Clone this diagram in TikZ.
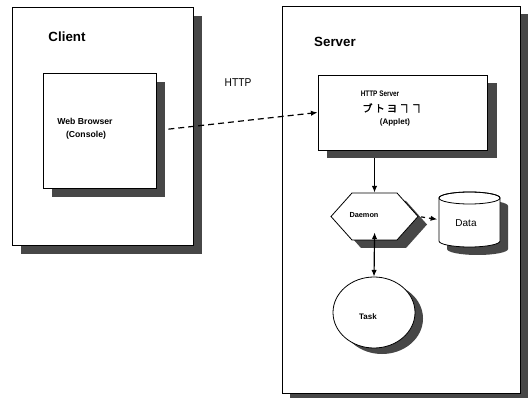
\documentclass[tikz,border=0pt]{standalone}
\usepackage{fontspec}
\setmainfont{Liberation Sans}
\newfontfamily\jpfont{Noto Sans CJK JP}[FakeBold=2]
\usetikzlibrary{shapes.geometric,arrows.meta}
\begin{document}
\begin{tikzpicture}[x=0.75pt,y=-0.75pt,line width=0.6pt,
  shade/.style={fill=black!72,draw=none},
  box/.style={draw,fill=white,rectangle,inner sep=0pt},
  title/.style={font=\bfseries\fontsize{10}{11}\selectfont},
  small/.style={font=\bfseries\fontsize{6.5}{8}\selectfont,inner sep=0pt},
  tiny/.style={font=\bfseries\fontsize{6}{7}\selectfont,inner sep=0pt},
  conn/.style={line width=0.9pt},
  tip/.style={conn,-{Latex[length=5pt,width=4pt]}},
  dtip/.style={conn,{Latex[length=5pt,width=4pt]}-{Latex[length=5pt,width=4pt]}}]
\useasboundingbox (0,0) rectangle (530,398);
% Client
\fill[shade] (21,16) rectangle (202,254);
\node[box,minimum width=135.75pt,minimum height=178.5pt] (client) at (102.5,126) {};
\node[title] (clientlbl) at (67,37) {Client};
\fill[shade] (52,82) rectangle (165,197);
\node[box,minimum width=84.75pt,minimum height=86.25pt] (wb) at (99.5,130.5) {};
\node[small] (wbl1) at (85,121) {Web Browser};
\node[small] (wbl2) at (86,135) {(Console)};
% HTTP label
\node[font=\fontsize{8.5}{10}\selectfont] (http) at (238,83) {\scalebox{0.9}[1]{HTTP}};
% Server
\fill[shade] (290,14) rectangle (528,398);
\node[box,minimum width=178.5pt,minimum height=290.25pt] (server) at (401,199.5) {};
\node[title] (serverlbl) at (335,42) {Server};
\fill[shade] (327,83) rectangle (497,158);
\node[box,minimum width=126.75pt,minimum height=56.25pt] (hs) at (402.5,112.5) {};
\node[tiny] (hsl1) at (380,94) {\scalebox{0.8}[1]{HTTP Server}};
\node[font=\jpfont\fontsize{7.5}{8}\selectfont,inner sep=0pt] (hsl2) at (392,108) {ブ ト ヨ ヿ ヿ};
\node[tiny] (hsl3) at (395,122) {(Applet)};
% Daemon hexagon
\node[inner sep=0pt,minimum width=65.25pt,minimum height=35.25pt] (dm) at (374.5,216.5) {};
\fill[shade] (340,224.5) -- (361,201) -- (406,201) -- (427,224.5) -- (406,248) -- (361,248) -- cycle;
\draw[fill=white] (331,216.5) -- (352,193) -- (397,193) -- (418,216.5) -- (397,240) -- (352,240) -- cycle;
\node[font=\bfseries\fontsize{5.5}{7}\selectfont,inner sep=0pt] (dml) at (364,215) {Daemon};
% Data cylinder
\node[inner sep=0pt,minimum width=45.75pt,minimum height=41.25pt] (data) at (469.5,219.5) {};
\fill[shade] (447,206) -- (447,249) arc[start angle=180,end angle=0,x radius=30.5,y radius=6] -- (508,206) arc[start angle=0,end angle=-180,x radius=30.5,y radius=6] -- cycle;
\draw[fill=white] (439,198) -- (439,241) arc[start angle=180,end angle=0,x radius=30.5,y radius=6] -- (500,198) arc[start angle=0,end angle=-180,x radius=30.5,y radius=6] -- cycle;
\draw (469.5,198) ellipse[x radius=30.5,y radius=6];
\node[font=\fontsize{7.5}{9}\selectfont,inner sep=0pt] (datal) at (466,223) {Data};
% Task
\fill[shade] (382,318.5) ellipse[x radius=41,y radius=35.5];
\node[draw,fill=white,ellipse,inner sep=0pt,minimum width=61.5pt,minimum height=53.25pt] (task) at (374,312.5) {};
\node[tiny] (taskl) at (368,317) {Task};
% connectors
\draw[tip,dash pattern=on 4.5pt off 3pt,shorten <=9pt] (wb.east) -- (hs.west);
\draw[tip] (dm.north |- hs.south) ++(0,8) -- (dm.north);
\draw[dtip,shorten <=-6pt] (dm.south) -- (task.north);
\draw[tip,dash pattern=on 3pt off 3pt,shorten <=2pt,shorten >=1pt] (dm.east) -- (data.west);
\end{tikzpicture}
\end{document}
